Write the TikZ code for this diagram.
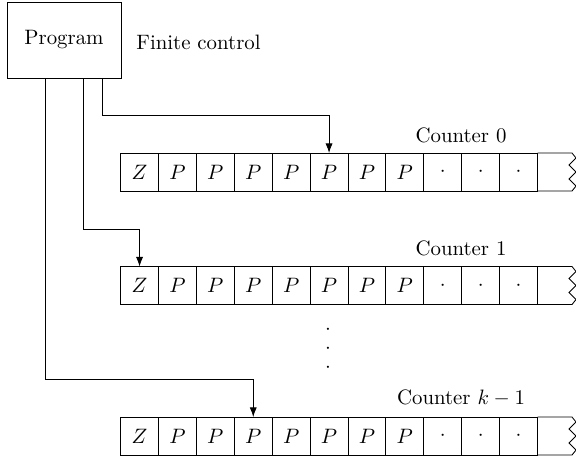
\documentclass[tikz,border=0pt]{standalone}
\usetikzlibrary{arrows.meta}
\begin{document}
\begin{tikzpicture}[x=0.48pt,y=-0.48pt,
  cell/.style={draw,minimum width=18.19pt,minimum height=18.24pt,inner sep=0pt,outer sep=0pt},
  conn/.style={-{Latex[length=4.6pt,width=3.4pt]}},
  lbl/.style={inner sep=0pt}]
\useasboundingbox (0,0) rectangle (576,461);
\node[draw,minimum width=54.7pt,minimum height=36.5pt,inner sep=0pt,outer sep=0pt] (prog) at (64,40) {Program};
\node[lbl,anchor=west] (fc) at (136,42) {Finite control};
\foreach \r/\y in {0/172,1/285.5,2/436} {
  \foreach \i in {0,...,10} {
    \ifnum\i=0 \def\s{$Z$}\else\ifnum\i<8 \def\s{$P$}\else\def\s{$\cdot$}\fi\fi
    \node[cell] (t\r c\i) at ({120.6+37.9*(\i+0.5)},\y) {\s};
  }
  \draw (t\r c10.north east) -- ++(34.5,0) -- ++(4,5) -- ++(-7,7) -- ++(7,7) -- ++(-7,7) -- ++(7,7) -- ++(-4,5) -- (t\r c10.south east);
}
\node[lbl] (c0) at (461,135) {Counter 0};
\node[lbl] (c1) at (461,248) {Counter 1};
\node[lbl] (c2) at (461,398) {Counter $k-1$};
\node[lbl] (d1) at (328,330) {$\cdot$};
\node[lbl] (d2) at (328,349) {$\cdot$};
\node[lbl] (d3) at (328,368) {$\cdot$};
\coordinate (b0) at (102,115);
\coordinate (b1) at (83,229);
\coordinate (b2) at (45,379);
\draw[conn] (prog.south -| b0) -- (b0) -| (t0c5.north);
\draw[conn] (prog.south -| b1) -- (b1) -| (t1c0.north);
\draw[conn] (prog.south -| b2) -- (b2) -| (t2c3.north);
\end{tikzpicture}
\end{document}
